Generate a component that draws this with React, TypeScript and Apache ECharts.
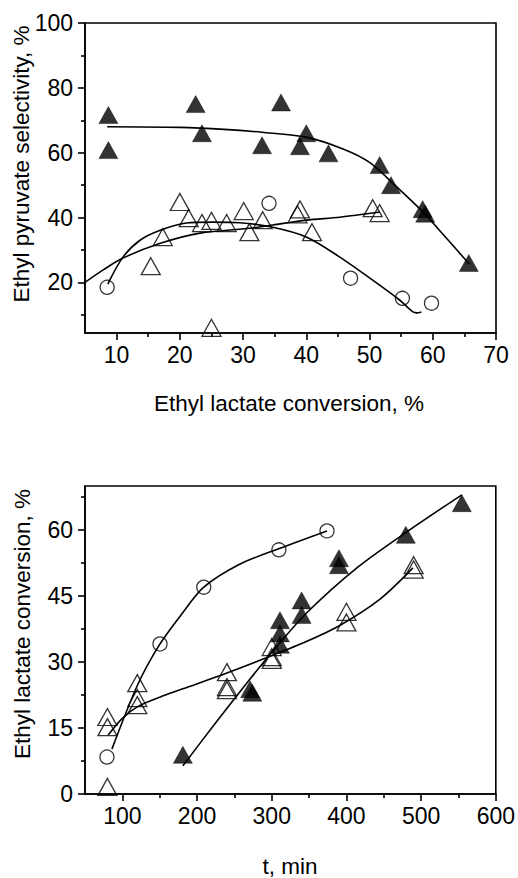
import React, { useEffect, useRef } from "react";
import * as echarts from "echarts";

// ---------- Top chart: selectivity vs conversion ----------
const topFilledX = [8.7, 8.7, 22.5, 23.5, 33, 36, 39, 40, 43.5, 51.6, 53.4, 58.4, 58.8, 65.7];
const topFilledY = [71.6, 60.8, 75, 66, 62.3, 75.5, 62, 66, 59.8, 56.2, 50, 42.6, 41.2, 26];
const topOpenTriX = [15.4, 17.3, 20, 21.4, 23.5, 25, 27.4, 30.1, 31, 33.1, 39, 38.6, 40.9, 50.5, 51.6, 25];
const topOpenTriY = [25, 34, 44.8, 39.8, 38.3, 39, 38.3, 42, 35.5, 39.2, 42.5, 41, 35.5, 42.9, 41.4, 6];
const topCircleX = [8.5, 34.1, 47, 55.2, 59.8];
const topCircleY = [18.5, 44.4, 21.3, 15.1, 13.6];
// fitted curves
const topFilledFitX = [8.5, 20, 27, 33, 40, 46, 50, 54, 58.5, 62, 65.8];
const topFilledFitY = [68, 67.8, 67.2, 66.3, 64.8, 61, 57, 50, 41.6, 34, 25.6];
const topCircleFitX = [8.6, 11, 13.7, 16.8, 21, 25.2, 29.5, 34.7, 40, 45.3, 50.5, 54.8, 56.8, 57.5, 58.2];
const topCircleFitY = [19.5, 27.8, 33, 36, 38.3, 38.6, 38.4, 37, 34, 27.8, 20.7, 14.5, 11, 10.6, 10.9];
const topTriFitX = [5, 8, 11, 16.8, 23.2, 31.5, 34.7, 40, 45.3, 51.6];
const topTriFitY = [20, 24, 27.5, 32, 35.2, 36.8, 37.7, 39.2, 40.1, 41.7];
const topXLabels = [10, 20, 30, 40, 50, 60, 70];
const topXMinor = [15, 25, 35, 45, 55, 65];
const topYLabels = [20, 40, 60, 80, 100];
const topYMinor = [10, 30, 50, 70, 90];

// ---------- Bottom chart: conversion vs time ----------
const botCircleX = [79.4, 150.4, 209, 309.6, 374];
const botCircleY = [8.4, 34.1, 47, 55.5, 59.8];
const botOpenTriX = [80, 80, 80, 120, 120, 120, 240, 240, 240, 300, 300, 300, 400, 400, 490, 490];
const botOpenTriY = [17.5, 15.2, 1.6, 25.2, 21.8, 20.2, 27.7, 24.3, 23.6, 33.4, 31.1, 30.5, 41.4, 39, 52, 51];
const botFilledX = [181, 271, 274, 311, 311, 311, 340, 340, 390, 390, 479.5, 554.5];
const botFilledY = [8.9, 23.8, 23, 39.5, 36.5, 33.9, 44, 40.7, 53.6, 52, 58.9, 66.1];
const botCircleFitX = [86, 121, 150, 180, 209, 257, 310, 374];
const botCircleFitY = [10.2, 25, 34, 41, 47, 52.2, 55.8, 59.8];
const botTriFitX = [81, 100, 120, 150, 181, 240, 298, 347, 391, 445, 489];
const botTriFitY = [13.4, 17.2, 19.8, 22, 23.9, 27.5, 31.3, 34.7, 38.3, 44.3, 51.4];
const botFilledFitX = [181, 225, 268, 301.6, 347, 414, 481, 554.5];
const botFilledFitY = [6.4, 16.2, 25.5, 32.5, 41.2, 51.4, 59.6, 68];
const botXLabels = [100, 200, 300, 400, 500, 600];
const botXMinor = [150, 250, 350, 450, 550];
const botYLabels = [0, 15, 30, 45, 60];
const botYMinor = [7.5, 22.5, 37.5, 52.5, 67.5];

const FONT = '"Liberation Sans", Arial, sans-serif';
const zip = (xs: number[], ys: number[]) => xs.map((x, i) => [x, ys[i]]);

export default function App() {
  const ref = useRef<HTMLDivElement>(null);
  useEffect(() => {
    if (!ref.current) return;
    const chart = echarts.init(ref.current, undefined, { renderer: "svg" });
    const lineW = 1.6;
    const mainX = (grid: number, min: number, max: number, labels: number[]) => ({
      type: "value", gridIndex: grid, position: "bottom", min, max,
      axisLine: { show: true, onZero: false, lineStyle: { color: "#000", width: lineW } },
      axisTick: { show: true, inside: false, length: 7, customValues: labels, lineStyle: { color: "#000", width: lineW } },
      axisLabel: { show: true, customValues: labels, margin: 10, color: "#000", fontSize: 23, fontFamily: FONT },
      splitLine: { show: false },
    });
    const minorX = (grid: number, min: number, max: number, ticks: number[]) => ({
      type: "value", gridIndex: grid, position: "bottom", min, max,
      axisLine: { show: false },
      axisTick: { show: true, inside: false, length: 4, customValues: ticks, lineStyle: { color: "#000", width: lineW } },
      axisLabel: { show: false },
      splitLine: { show: false },
    });
    const mainY = (grid: number, min: number, max: number, labels: number[]) => ({
      type: "value", gridIndex: grid, position: "left", min, max,
      axisLine: { show: true, onZero: false, lineStyle: { color: "#000", width: lineW } },
      axisTick: { show: true, inside: false, length: 7, customValues: labels, lineStyle: { color: "#000", width: lineW } },
      axisLabel: { show: true, customValues: labels, margin: 12, color: "#000", fontSize: 23, fontFamily: FONT },
      splitLine: { show: false },
    });
    const minorY = (grid: number, min: number, max: number, ticks: number[]) => ({
      type: "value", gridIndex: grid, position: "left", min, max,
      axisLine: { show: false },
      axisTick: { show: true, inside: false, length: 4, customValues: ticks, lineStyle: { color: "#000", width: lineW } },
      axisLabel: { show: false },
      splitLine: { show: false },
    });
    const triSize = [19, 17];
    const filledTri = (name: string, xi: number, xs: number[], ys: number[]) => ({
      type: "scatter", name, xAxisIndex: xi, yAxisIndex: xi, data: zip(xs, ys),
      symbol: "triangle", symbolSize: triSize,
      itemStyle: { color: "#000", borderColor: "#000", borderWidth: 0.5 }, z: 3,
    });
    const openTri = (name: string, xi: number, xs: number[], ys: number[]) => ({
      type: "scatter", name, xAxisIndex: xi, yAxisIndex: xi, data: zip(xs, ys),
      symbol: "triangle", symbolSize: triSize,
      itemStyle: { color: "rgba(255,255,255,0)", borderColor: "#000", borderWidth: 1.3 }, z: 3,
    });
    const openCircle = (name: string, xi: number, xs: number[], ys: number[]) => ({
      type: "scatter", name, xAxisIndex: xi, yAxisIndex: xi, data: zip(xs, ys),
      symbol: "circle", symbolSize: 14,
      itemStyle: { color: "rgba(255,255,255,0)", borderColor: "#000", borderWidth: 1.3 }, z: 3,
    });
    const fit = (name: string, xi: number, xs: number[], ys: number[]) => ({
      type: "line", name, xAxisIndex: xi, yAxisIndex: xi, data: zip(xs, ys),
      smooth: 0.3, showSymbol: false, symbol: "none",
      lineStyle: { color: "#000", width: 1.6 }, z: 4,
    });
    const title = (text: string, x: number, y: number, rotate: boolean) => ({
      type: "text", x, y, rotation: rotate ? Math.PI / 2 : 0,
      style: {
        text, fill: "#000", font: `22.5px ${FONT}`,
        align: "center", verticalAlign: "middle", textAlign: "center", textVerticalAlign: "middle",
      },
    });
    chart.setOption({
      animation: false,
      backgroundColor: "#fff",
      grid: [
        { left: 85, top: 23, width: 411, height: 310, show: true, borderColor: "#000", borderWidth: lineW, backgroundColor: "transparent" },
        { left: 85, top: 486, width: 411, height: 308, show: true, borderColor: "#000", borderWidth: lineW, backgroundColor: "transparent" },
      ],
      xAxis: [
        mainX(0, 5, 70, topXLabels),
        minorX(0, 5, 70, topXMinor),
        mainX(1, 50, 600, botXLabels),
        minorX(1, 50, 600, botXMinor),
      ],
      yAxis: [
        mainY(0, 4.4, 100, topYLabels),
        minorY(0, 4.4, 100, topYMinor),
        mainY(1, 0, 70, botYLabels),
        minorY(1, 0, 70, botYMinor),
      ],
      series: [
        filledTri("top filled", 0, topFilledX, topFilledY),
        openTri("top open", 0, topOpenTriX, topOpenTriY),
        openCircle("top circle", 0, topCircleX, topCircleY),
        fit("top filled fit", 0, topFilledFitX, topFilledFitY),
        fit("top circle fit", 0, topCircleFitX, topCircleFitY),
        fit("top tri fit", 0, topTriFitX, topTriFitY),
        filledTri("bot filled", 2, botFilledX, botFilledY),
        openTri("bot open", 2, botOpenTriX, botOpenTriY),
        openCircle("bot circle", 2, botCircleX, botCircleY),
        fit("bot circle fit", 2, botCircleFitX, botCircleFitY),
        fit("bot tri fit", 2, botTriFitX, botTriFitY),
        fit("bot filled fit", 2, botFilledFitX, botFilledFitY),
      ],
      graphic: [
        title("Ethyl pyruvate selectivity, %", 21, 164, true),
        title("Ethyl lactate conversion, %", 289, 403, false),
        title("Ethyl lactate conversion, %", 22, 624, true),
        title("t, min", 290, 866, false),
      ],
    });
    return () => chart.dispose();
  }, []);
  return (
    <div
      ref={ref}
      style={{ position: "absolute", left: 0, top: 0, width: 518, height: 878, background: "#fff" }}
    />
  );
}
